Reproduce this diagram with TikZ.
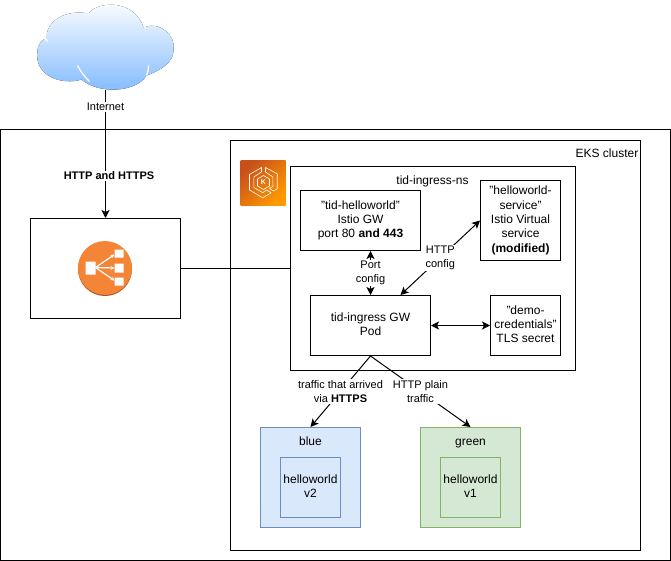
\documentclass[tikz,border=0pt]{standalone}
\usepackage{fontspec}
\setmainfont{Liberation Sans}
\usetikzlibrary{arrows.meta}
\definecolor{blueback}{HTML}{DAE8FC}
\definecolor{blueline}{HTML}{6C8EBF}
\definecolor{greenback}{HTML}{D5E8D4}
\definecolor{greenline}{HTML}{82B366}
\definecolor{lborange}{HTML}{F58536}
\definecolor{lbshade}{HTML}{9D5025}
\definecolor{eksdark}{HTML}{C8511B}
\definecolor{ekslight}{HTML}{FF9900}
\definecolor{cloudtop}{HTML}{FFFFFF}
\definecolor{cloudbottom}{HTML}{7FB9FF}
\tikzset{
  box/.style={rectangle,draw=black,line width=1pt,align=center,inner sep=1pt,
    font=\fontsize{12}{14.4}\selectfont,
    execute at begin node={\rule{0pt}{12pt}},
    execute at end node={\rule[-2.6pt]{0pt}{2.6pt}}},
  bluebox/.style={box,draw=blueline,fill=blueback},
  greenbox/.style={box,draw=greenline,fill=greenback},
  title/.style={font=\fontsize{12}{14.4}\selectfont,inner sep=0pt},
  link/.style={-{Stealth[length=8pt,width=8pt,inset=2pt]},line width=1pt},
  dlink/.style={{Stealth[length=8pt,width=8pt,inset=2pt]}-{Stealth[length=8pt,width=8pt,inset=2pt]},line width=1pt},
  linklabel/.style={font=\fontsize{11}{14}\selectfont,fill=white,inner sep=1pt,align=center},
  lbarrow/.style={white,line width=1.2pt,-{Stealth[length=4pt,width=4pt]}}
}
\begin{document}
\begin{tikzpicture}[x=1pt,y=-1pt]
  \useasboundingbox (-0.5,-0.5) rectangle (670.5,560.5);

  \node[box,minimum width=670pt,minimum height=431pt] (outer) at (335,344.5) {};
  \node[box,minimum width=410pt,minimum height=410pt] (eks) at (435,345) {};
  \node[title,anchor=base east] (ekstitle) at (638,157) {EKS cluster};

  % cloud outline with its white seams
  \fill[top color=cloudtop,bottom color=cloudbottom,shading angle=0]
    (47,41) .. controls (42,24) and (62,8) .. (88,13)
    .. controls (98,0) and (134,-1) .. (143,27)
    .. controls (160,20) and (176,36) .. (173,50)
    .. controls (173,62) and (160,70) .. (146,75)
    .. controls (136,92) and (98,94) .. (81,79)
    .. controls (62,85) and (33,76) .. (37,50)
    .. controls (37,45) and (41,39) .. (47,37) -- cycle;
  \draw[white,line width=1.3pt]
    (43,35) -- (47,41) (85,11) .. controls (87,12) .. (90,15)
    (142,18) .. controls (144,22) .. (145,28)
    (77,65) .. controls (80,71) and (84,76) .. (89,81)
    (148,65) .. controls (148,69) .. (146,75);
  \node[minimum width=136pt,minimum height=83pt,inner sep=0pt] (cloud) at (105,45.5) {};

  \node[box,minimum width=150pt,minimum height=100pt] (lb) at (105,268) {};
  % load balancer icon
  \fill[lbshade] (104.5,268.5) circle (27pt);
  \fill[lborange] (104.5,267.5) circle (27pt);
  \fill[white] (85,261) rectangle (95,274) (114,249) rectangle (123,257)
    (114,263) rectangle (123,272) (114,277) rectangle (123,285);
  \draw[lbarrow] (95,267) -- (114,254);
  \draw[lbarrow] (95,267) -- (114,267.5);
  \draw[lbarrow] (95,267) -- (114,280);

  % EKS icon
  \node[minimum size=45pt,inner sep=0pt,shading=axis,left color=eksdark,right color=ekslight,shading angle=45] (eksicon) at (262.5,182.5) {};
  \draw[white,line width=0.6pt,line join=round]
    (261,167) -- (249,174) -- (249,189.5) -- (262.3,197.3) -- (270.7,192.3) -- (266,189.5) -- (262.3,192.2) -- (253.3,187) -- (253.3,176.5) -- (261,171.5) -- cycle
    (265,167) -- (276.7,173.3) -- (276.7,188.3) -- (273,190.5) -- (269,188) -- (272.3,186) -- (272.3,176.5) -- (265,171.5) -- cycle
    (263,175) -- (269,178.5) -- (269,185.5) -- (263,189) -- (257,185.5) -- (257,178.5) -- cycle;
  \node[white,font=\fontsize{7}{7}\selectfont\bfseries,inner sep=0pt] (ekslabel) at (263,182) {K};

  \node[box,minimum width=285pt,minimum height=204pt] (ns) at (432.5,268) {};
  \node[title,anchor=base] (nstitle) at (432,184) {tid-ingress-ns};
  \node[box,minimum width=120pt,minimum height=60pt] (gw) at (360,220)
    {"tid-helloworld"\\Istio GW\\port 80 \textbf{and 443}};
  \node[box,minimum width=80pt,minimum height=80pt] (vs) at (520,220)
    {"helloworld-\\service"\\Istio Virtual\\service\\\textbf{(modified)}};
  \node[box,minimum width=120pt,minimum height=60pt] (pod) at (370,325) {tid-ingress GW\\Pod};
  \node[box,minimum width=70pt,minimum height=60pt] (secret) at (525,325)
    {"demo-\\credentials"\\TLS secret};

  \node[bluebox,minimum size=100pt] (blue) at (310,477) {};
  \node[title,anchor=base] (bluetitle) at (310,445) {blue};
  \node[bluebox,minimum size=60pt] (hello2) at (310,487) {helloworld\\v2};
  \node[greenbox,minimum size=100pt] (green) at (470,477) {};
  \node[title,anchor=base] (greentitle) at (470,445) {green};
  \node[greenbox,minimum size=60pt] (hello1) at (470,487) {helloworld\\v1};

  \coordinate (cloudfoot) at (105,90);
  \draw[link] (cloudfoot) -- node[linklabel,pos=0.13] {Internet}
    node[linklabel,pos=0.667,xshift=3.5pt] {\textbf{HTTP and HTTPS}} (lb.north);
  \draw[line width=1pt] (lb.east) -- (lb.east -| ns.west);
  \draw[dlink] (pod.north) -- node[linklabel] {Port\\config} (pod.north |- gw.south);
  \draw[dlink] ([xshift=30pt]pod.north) -- node[linklabel] {HTTP\\config} (vs.west);
  \draw[dlink] (pod.east) -- (secret.west);
  \draw[link] (pod.south) -- node[linklabel] {traffic that arrived\\via \textbf{HTTPS}} (blue.north);
  \draw[link] (pod.south) -- node[linklabel] {HTTP plain\\traffic} (green.north);
\end{tikzpicture}
\end{document}
